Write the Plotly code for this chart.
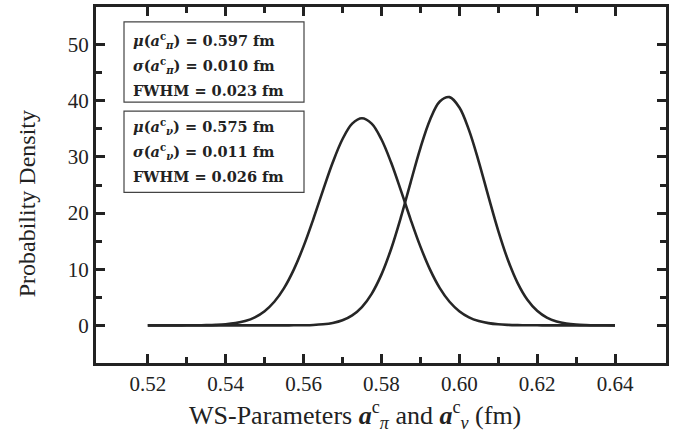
import plotly.graph_objects as go

# x grid (fm)
x_vals = [0.5200, 0.5225, 0.5250, 0.5275, 0.5300, 0.5325, 0.5350, 0.5375, 0.5400, 0.5425,
          0.5450, 0.5475, 0.5500, 0.5525, 0.5550, 0.5575, 0.5600, 0.5625, 0.5650, 0.5675,
          0.5700, 0.5725, 0.5750, 0.5775, 0.5800, 0.5825, 0.5850, 0.5875, 0.5900, 0.5925,
          0.5950, 0.5975, 0.6000, 0.6025, 0.6050, 0.6075, 0.6100, 0.6125, 0.6150, 0.6175,
          0.6200, 0.6225, 0.6250, 0.6275, 0.6300, 0.6325, 0.6350, 0.6375, 0.6400]

# neutron-like curve (a_nu)
y_nu = [0.00, 0.00, 0.00, 0.00, 0.01, 0.02, 0.04, 0.09, 0.19, 0.40,
        0.78, 1.44, 2.53, 4.21, 6.64, 9.93, 14.07, 18.89, 24.04, 29.00,
        33.15, 35.93, 36.90, 35.93, 33.15, 29.00, 24.04, 18.89, 14.07, 9.93,
        6.64, 4.21, 2.53, 1.44, 0.78, 0.40, 0.19, 0.09, 0.04, 0.02,
        0.01, 0.00, 0.00, 0.00, 0.00, 0.00, 0.00, 0.00, 0.00]

# proton-like curve (a_pi)
y_pi = [0.00, 0.00, 0.00, 0.00, 0.00, 0.00, 0.00, 0.00, 0.00, 0.00,
        0.00, 0.00, 0.00, 0.00, 0.00, 0.01, 0.03, 0.08, 0.20, 0.44,
        0.91, 1.79, 3.27, 5.62, 9.04, 13.61, 19.23, 25.44, 31.53, 36.63,
        39.86, 40.65, 38.84, 34.77, 29.17, 22.93, 16.89, 11.65, 7.53, 4.56,
        2.59, 1.38, 0.69, 0.32, 0.14, 0.06, 0.02, 0.01, 0.00]

x_ticks = [0.52, 0.54, 0.56, 0.58, 0.60, 0.62, 0.64]
x_tick_labels = ["0.52", "0.54", "0.56", "0.58", "0.60", "0.62", "0.64"]
x_minor_ticks = [0.53, 0.55, 0.57, 0.59, 0.61, 0.63]
y_ticks = [0, 10, 20, 30, 40, 50]
y_tick_labels = ["0", "10", "20", "30", "40", "50"]
y_minor_ticks = [5, 15, 25, 35, 45]

box1_lines = ["<b><i>μ</i>(<i>a</i><sup>c</sup><sub><i>π</i></sub>) = 0.597 fm</b>",
              "<b><i>σ</i>(<i>a</i><sup>c</sup><sub><i>π</i></sub>) = 0.010 fm</b>",
              "<b>FWHM = 0.023 fm</b>"]
box2_lines = ["<b><i>μ</i>(<i>a</i><sup>c</sup><sub><i>ν</i></sub>) = 0.575 fm</b>",
              "<b><i>σ</i>(<i>a</i><sup>c</sup><sub><i>ν</i></sub>) = 0.011 fm</b>",
              "<b>FWHM = 0.026 fm</b>"]

W, H = 685, 442
L, R, T, B = 96, 666, 4, 363  # plot area in pixels
FONT = "Liberation Serif, Times New Roman, serif"
BOXFONT = "DejaVu Serif, serif"
INK = "#222222"


def px(xp):
    return (xp - L) / (R - L)


def py(yp):
    return (B - yp) / (B - T)


fig = go.Figure()
for yv in (y_nu, y_pi):
    fig.add_trace(go.Scatter(x=x_vals, y=yv, mode="lines",
                             line=dict(color="#262626", width=2.6, shape="spline", smoothing=1.0),
                             showlegend=False, hoverinfo="skip"))

axis_common = dict(showline=True, linecolor=INK, linewidth=3, mirror="allticks",
                   ticks="inside", tickcolor=INK, tickwidth=3, ticklen=9,
                   showgrid=False, zeroline=False,
                   tickfont=dict(family=FONT, size=21, color=INK))

fig.update_xaxes(range=[0.5067, 0.6531], tickvals=x_ticks, ticktext=x_tick_labels,
                 minor=dict(tickvals=x_minor_ticks, ticks="inside", ticklen=6,
                            tickwidth=2.5, tickcolor=INK, showgrid=False),
                 **axis_common)
fig.update_yaxes(range=[-6.7, 56.7], tickvals=y_ticks, ticktext=y_tick_labels,
                 minor=dict(tickvals=y_minor_ticks, ticks="inside", ticklen=6,
                            tickwidth=2.5, tickcolor=INK, showgrid=False),
                 **axis_common)

shapes = []
for (y0, y1) in [(19, 100), (109, 191)]:
    shapes.append(dict(type="rect", xref="paper", yref="paper",
                       x0=px(124), x1=px(304), y0=py(y1), y1=py(y0),
                       line=dict(color="#444444", width=1.2), fillcolor="rgba(0,0,0,0)"))

annotations = []
for lines, ys in [(box1_lines, [38, 63, 88]), (box2_lines, [125, 150, 175])]:
    for txt, yy in zip(lines, ys):
        annotations.append(dict(text=txt, xref="paper", yref="paper", x=px(131), y=py(yy),
                                xanchor="left", yanchor="middle", showarrow=False,
                                font=dict(family=BOXFONT, size=14.5, color=INK)))

annotations.append(dict(text="WS-Parameters <b><i>a</i></b><sup>c</sup><sub><i>π</i></sub> and "
                             "<b><i>a</i></b><sup>c</sup><sub><i>ν</i></sub> (fm)",
                        xref="paper", yref="paper", x=px(355), y=py(415),
                        xanchor="center", yanchor="middle", showarrow=False,
                        font=dict(family=FONT, size=26, color=INK)))
annotations.append(dict(text="Probability Density", xref="paper", yref="paper",
                        x=px(27), y=py(203), xanchor="center", yanchor="middle",
                        textangle=-90, showarrow=False,
                        font=dict(family=FONT, size=24, color=INK)))

fig.update_layout(width=W, height=H, margin=dict(l=L, r=W - R, t=T, b=H - B),
                  plot_bgcolor="white", paper_bgcolor="white",
                  shapes=shapes, annotations=annotations)

fig.write_html("out.html")
